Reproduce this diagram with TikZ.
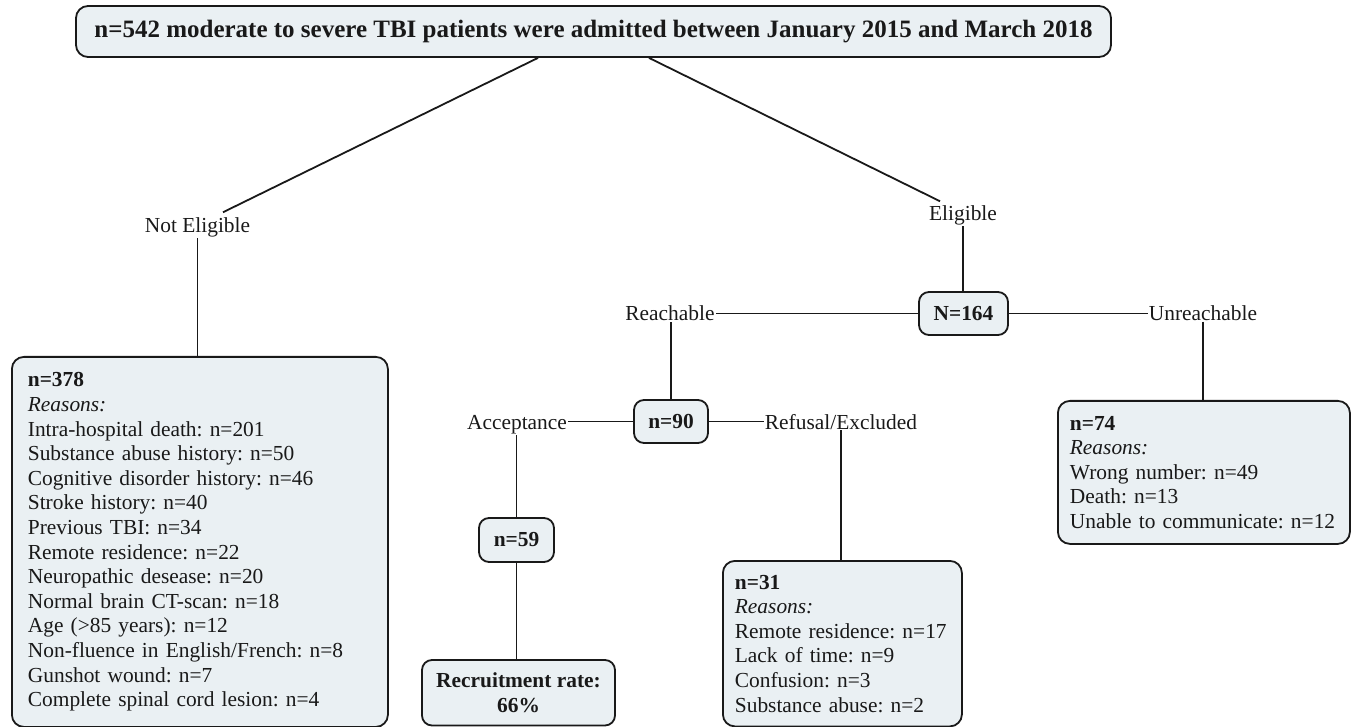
\documentclass[tikz,border=0pt]{standalone}
\usepackage{fontspec}
\setmainfont{Liberation Serif}
\usetikzlibrary{calc}
\definecolor{boxfill}{RGB}{234,240,243}
\definecolor{ink}{RGB}{25,25,25}
\begin{document}
\frenchspacing
\begin{tikzpicture}[x=1pt,y=-1pt,
  txt/.style={font=\fontsize{21.4}{24.6}\selectfont\frenchspacing, inner sep=1pt, text=ink},
  lbl/.style={txt, anchor=base},
  bigbox/.style={txt, draw=ink, fill=boxfill, line width=1.8pt, rounded corners=12pt, align=left, anchor=north west, inner ysep=0pt},
  smallbox/.style={draw=ink, fill=boxfill, line width=1.8pt, rounded corners=10pt, font=\fontsize{21.4}{24.6}\selectfont\bfseries\frenchspacing, inner sep=0pt, text=ink},
  conn/.style={draw=ink, line width=1.8pt}
]
\useasboundingbox (0,0) rectangle (1353,727);

% top box
\node[smallbox, rounded corners=12pt, minimum width=1035pt, minimum height=51pt,
      font=\fontsize{25}{30}\selectfont\bfseries] (top) at (593.5,31.5)
  {n=542 moderate to severe TBI patients were admitted between January 2015 and March 2018};

% labels
\node[lbl] (ne) at (197.5,232.3) {Not Eligible};
\node[lbl] (elig) at (963,220.3) {Eligible};
\node[lbl] (reach) at (670,320.3) {Reachable};
\node[lbl] (unreach) at (1203,320.3) {Unreachable};
\node[lbl] (acc) at (517,429) {Acceptance};
\node[lbl] (ref) at (841,429) {Refusal/Excluded};

% small boxes
\node[smallbox, minimum width=89pt, minimum height=43pt] (n164) at (963.5,313.5) {N=164};
\node[smallbox, minimum width=74pt, minimum height=43pt] (n90) at (671,421.5) {n=90};
\node[smallbox, minimum width=75pt, minimum height=44pt] (n59) at (516.5,540) {n=59};
\node[smallbox, align=center, minimum width=193pt, minimum height=65.5pt] (rec) at (518.5,692.75)
  {Recruitment rate:\\66\%};

% big boxes
\node[bigbox, inner xsep=16pt, text width=344pt, minimum height=370pt] (lb) at (11,356)
  {\textbf{n=378}\\
   \textit{Reasons:}\\
   Intra-hospital death: n=201\\
   Substance abuse history: n=50\\
   Cognitive disorder history: n=46\\
   Stroke history: n=40\\
   Previous TBI: n=34\\
   Remote residence: n=22\\
   Neuropathic desease: n=20\\
   Normal brain CT-scan: n=18\\
   Age (>85 years): n=12\\
   Non-fluence in English/French: n=8\\
   Gunshot wound: n=7\\
   Complete spinal cord lesion: n=4};

\node[bigbox, inner xsep=12pt, text width=215pt, minimum height=165.5pt] (n31) at (722,560)
  {\textbf{n=31}\\
   \textit{Reasons:}\\
   Remote residence: n=17\\
   Lack of time: n=9\\
   Confusion: n=3\\
   Substance abuse: n=2};

\node[bigbox, inner xsep=12pt, text width=268pt, minimum height=143pt] (n74) at (1057,400)
  {\textbf{n=74}\\
   \textit{Reasons:}\\
   Wrong number: n=49\\
   Death: n=13\\
   Unable to communicate: n=12};

% connectors
\draw[conn] ($(top.south)+(-55.5,0)$) -- ($(ne.north)+(25.5,-4)$);
\draw[conn] ($(top.south)+(55.5,0)$) -- ($(elig.north)+(-23,-3)$);
\draw[conn] (ne.south) -- (ne.south |- lb.north);
\draw[conn] (elig.south) -- (elig.south |- n164.north);
\draw[conn] (n164.west) -- (n164.west -| reach.east);
\draw[conn] (n164.east) -- (n164.east -| unreach.west);
\draw[conn] (n90.north) -- (n90.north |- reach.south);
\draw[conn] (unreach.south) -- (unreach.south |- n74.north);
\draw[conn] (n90.west) -- (n90.west -| acc.east);
\draw[conn] (n90.east) -- (n90.east -| ref.west);
\draw[conn] (n59.north) -- (n59.north |- acc.south);
\draw[conn] (ref.south) -- (ref.south |- n31.north);
\draw[conn] (n59.south) -- (n59.south |- rec.north);
\end{tikzpicture}
\end{document}
